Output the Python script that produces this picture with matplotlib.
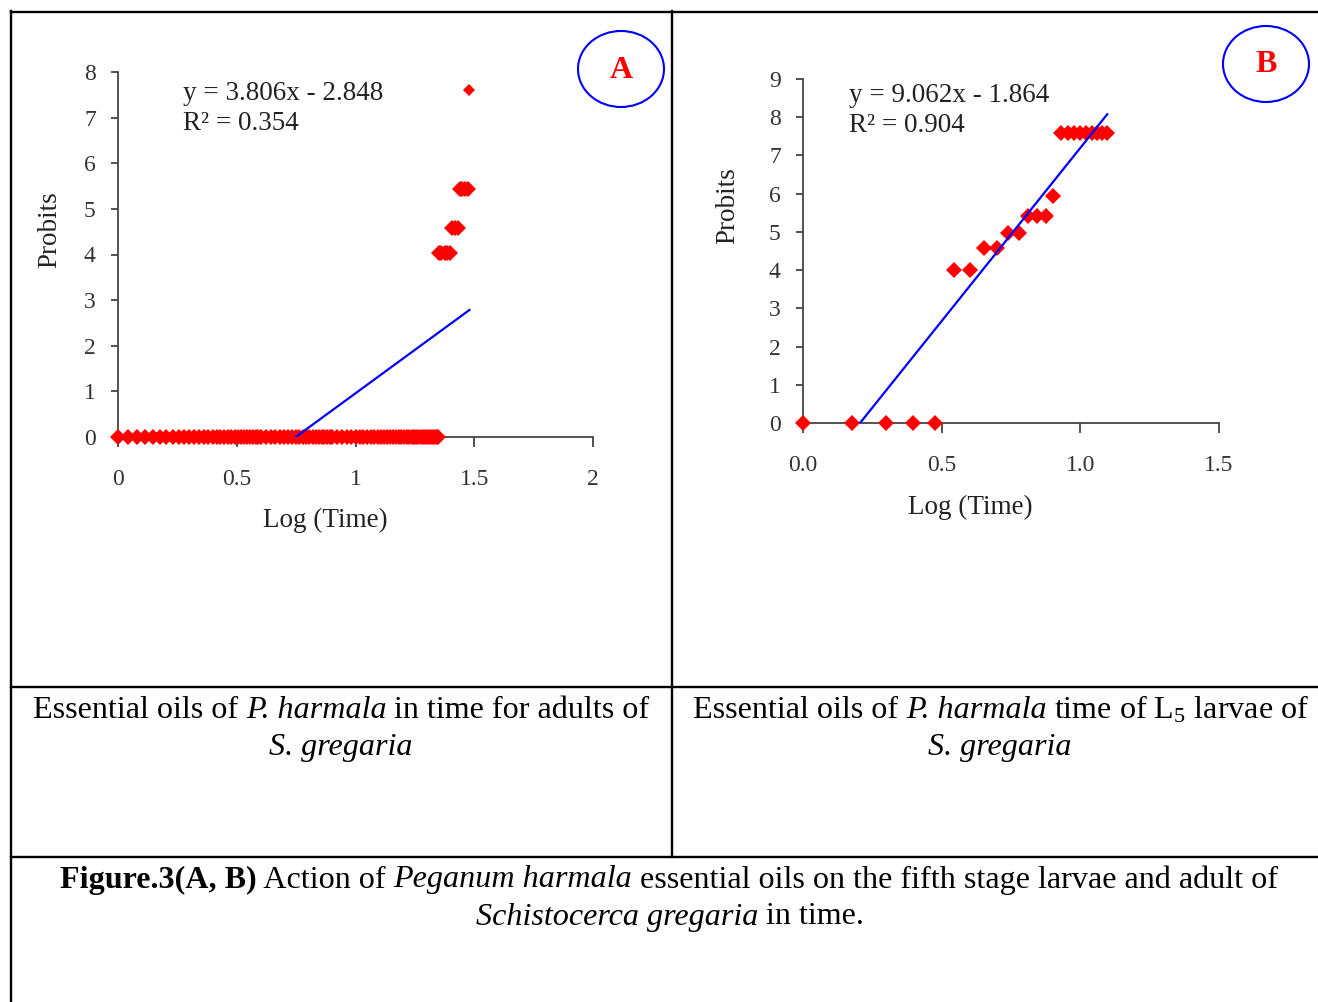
import matplotlib
matplotlib.use("Agg")
import matplotlib.pyplot as plt
import numpy as np
from matplotlib.lines import Line2D
from matplotlib.patches import Ellipse

plt.rcParams["font.family"] = ["Liberation Serif", "DejaVu Serif"]
plt.rcParams["mathtext.fontset"] = "custom"
plt.rcParams["mathtext.rm"] = "Liberation Serif"
plt.rcParams["mathtext.it"] = "Liberation Serif:italic"
plt.rcParams["mathtext.bf"] = "Liberation Serif:bold"

# Panel A: adults, log(time) vs probits
a_zero_x = [
    0.0, 0.041, 0.079, 0.114, 0.146, 0.176, 0.204, 0.23, 0.255, 0.279,
    0.301, 0.322, 0.342, 0.362, 0.38, 0.398, 0.415, 0.431, 0.447, 0.462,
    0.477, 0.491, 0.505, 0.519, 0.531, 0.544, 0.556, 0.568, 0.58, 0.591,
    0.602, 0.623, 0.643, 0.663, 0.681, 0.699, 0.716, 0.732, 0.748, 0.763,
    0.778, 0.792, 0.806, 0.82, 0.833, 0.845, 0.857, 0.869, 0.881, 0.892,
    0.903, 0.924, 0.944, 0.964, 0.982, 1.0, 1.017, 1.033, 1.049, 1.064,
    1.079, 1.093, 1.107, 1.121, 1.134, 1.146, 1.158, 1.17, 1.182, 1.193,
    1.204, 1.215, 1.225, 1.236, 1.246, 1.255, 1.265, 1.274, 1.283, 1.292,
    1.301, 1.31, 1.318, 1.326, 1.334, 1.342, 1.346,
]
a_high_x = [1.35, 1.362, 1.375, 1.387, 1.398,
            1.405, 1.418, 1.43,
            1.44, 1.45, 1.462, 1.474]
a_high_y = [4.03, 4.03, 4.03, 4.03, 4.03,
            4.58, 4.58, 4.58,
            5.43, 5.43, 5.43, 5.43]
a_top_x = [1.478]
a_top_y = [7.6]
a_slope, a_intercept = 3.806, -2.848
a_fit_range = [0.75, 1.48]

# Panel B: L5 larvae
b_x = [0.0, 0.176, 0.301, 0.398, 0.477, 0.544, 0.602, 0.653, 0.699, 0.74,
       0.778, 0.813, 0.845, 0.875, 0.903, 0.929, 0.954, 0.978, 1.0, 1.021,
       1.041, 1.061, 1.079, 1.097]
b_y = [0, 0, 0, 0, 0, 4.01, 4.01, 4.58, 4.58, 4.98,
       4.98, 5.41, 5.41, 5.41, 5.95, 7.59, 7.59, 7.59, 7.59, 7.59,
       7.59, 7.59, 7.59, 7.59]
b_slope, b_intercept = 9.062, -1.864
b_fit_range = [0.206, 1.097]

a_xticks = [0, 0.5, 1, 1.5, 2]
a_xlabels = ["0", "0.5", "1", "1.5", "2"]
b_xticks = [0.0, 0.5, 1.0, 1.5]
b_xlabels = ["0.0", "0.5", "1.0", "1.5"]

W, H = 1318, 1002
fig = plt.figure(figsize=(W / 100, H / 100), dpi=100)


def fx(px):
    return px / W


def fy(py):
    return 1 - py / H


def style_axis(ax, xlim, ylim, xticks, xlabels, yticks):
    ax.set_xlim(*xlim)
    ax.set_ylim(*ylim)
    ax.set_xticks(xticks)
    ax.set_xticklabels(xlabels)
    ax.set_yticks(yticks)
    for side in ["top", "right"]:
        ax.spines[side].set_visible(False)
    for side in ["left", "bottom"]:
        ax.spines[side].set_color("#444444")
        ax.spines[side].set_linewidth(1.3)
    ax.tick_params(axis="x", direction="out", length=7, width=1.3,
                   color="#444444", pad=16, labelsize=17, labelcolor="#333333")
    ax.tick_params(axis="y", direction="out", length=5, width=1.3,
                   color="#444444", pad=11, labelsize=17, labelcolor="#333333")
    ax.set_facecolor("none")


marker_kw = dict(linestyle="none", marker="D", color="#ff0000",
                 markeredgewidth=0, clip_on=False, zorder=3)

# Panel A
ax_a = fig.add_axes([fx(118), fy(437), fx(593) - fx(118), fy(72) - fy(437)])
ax_a.plot(a_zero_x, [0] * len(a_zero_x), markersize=8.3, **marker_kw)
ax_a.plot(a_high_x, a_high_y, markersize=8.3, **marker_kw)
ax_a.plot(a_top_x, a_top_y, markersize=6.5, **marker_kw)
fit_x = np.array(a_fit_range)
ax_a.plot(fit_x, a_slope * fit_x + a_intercept, color="#0000ff", lw=1.6, zorder=4)
style_axis(ax_a, (0, 2), (0, 8), a_xticks, a_xlabels, range(0, 9))

# Panel B
ax_b = fig.add_axes([fx(803), fy(423), fx(1219) - fx(803), fy(79) - fy(423)])
ax_b.plot(b_x, b_y, markersize=8.3, **marker_kw)
fit_x = np.array(b_fit_range)
ax_b.plot(fit_x, b_slope * fit_x + b_intercept, color="#0000ff", lw=1.6, zorder=4)
style_axis(ax_b, (0, 1.5), (0, 9), b_xticks, b_xlabels, range(0, 10))

# axis labels and equations
label_kw = dict(fontsize=19.5, color="#222222", ha="center", va="center")
fig.text(fx(325), fy(520), "Log (Time)", **label_kw)
fig.text(fx(50), fy(230), "Probits", rotation=90, **label_kw)
fig.text(fx(970), fy(507), "Log (Time)", **label_kw)
fig.text(fx(728), fy(206), "Probits", rotation=90, **label_kw)

eq_kw = dict(fontsize=19.5, color="#222222", ha="left", va="center")
fig.text(fx(183), fy(93), "y = 3.806x - 2.848", **eq_kw)
fig.text(fx(183), fy(124), "R² = 0.354", **eq_kw)
fig.text(fx(849), fy(95), "y = 9.062x - 1.864", **eq_kw)
fig.text(fx(849), fy(125), "R² = 0.904", **eq_kw)

# panel badges
for cx, cy, letter in [(621, 69, "A"), (1266, 64, "B")]:
    fig.patches.append(Ellipse((fx(cx), fy(cy)), fx(86), 76 / H,
                               transform=fig.transFigure, fill=False,
                               edgecolor="#0000ff", lw=1.5))
    fig.text(fx(cx), fy(cy + 1), letter, color="#ff0000", fontsize=23,
             fontweight="bold", ha="center", va="center")

# table borders
border_kw = dict(color="black", lw=1.7, transform=fig.transFigure)
fig.lines.extend([
    Line2D([fx(11), 1], [fy(12), fy(12)], **border_kw),
    Line2D([fx(11), fx(11)], [fy(11), 0], **border_kw),
    Line2D([fx(672), fx(672)], [fy(11), fy(857)], **border_kw),
    Line2D([fx(11), 1], [fy(687), fy(687)], **border_kw),
    Line2D([fx(11), 1], [fy(857), fy(857)], **border_kw),
])

# captions with mixed upright / italic / bold runs
CAP_SIZE = 23.1
renderer = fig.canvas.get_renderer()


def run_width(text, style, weight):
    probe = fig.text(0, 0, "|" + text + "|", fontsize=CAP_SIZE, style=style,
                     fontweight=weight)
    bar = fig.text(0, 0, "||", fontsize=CAP_SIZE, style=style, fontweight=weight)
    w = probe.get_window_extent(renderer).width - bar.get_window_extent(renderer).width
    probe.remove()
    bar.remove()
    return w


def caption_line(cx, cy, runs):
    widths = [run_width(t, s, w) for t, s, w in runs]
    x = cx - sum(widths) / 2
    for (t, s, w), width in zip(runs, widths):
        fig.text(x / W, fy(cy), t, fontsize=CAP_SIZE, style=s, fontweight=w,
                 ha="left", va="center", color="black")
        x += width


N, I, B = ("normal", "normal"), ("italic", "normal"), ("normal", "bold")
caption_line(341, 710, [("Essential oils of ", *N), ("P. harmala", *I),
                        (" in time for adults of", *N)])
caption_line(341, 747, [("S. gregaria", *I)])
caption_line(1000, 710, [("Essential oils of ", *N), ("P. harmala", *I),
                         (" time of L$_5$ larvae of", *N)])
caption_line(1000, 747, [("S. gregaria", *I)])
caption_line(669, 880, [("Figure.3(A, B)", *B), (" Action of ", *N),
                        ("Peganum harmala", *I),
                        (" essential oils on the fifth stage larvae and adult of", *N)])
caption_line(670, 917, [("Schistocerca gregaria", *I), (" in time.", *N)])

fig.savefig("out.png", dpi=100)
